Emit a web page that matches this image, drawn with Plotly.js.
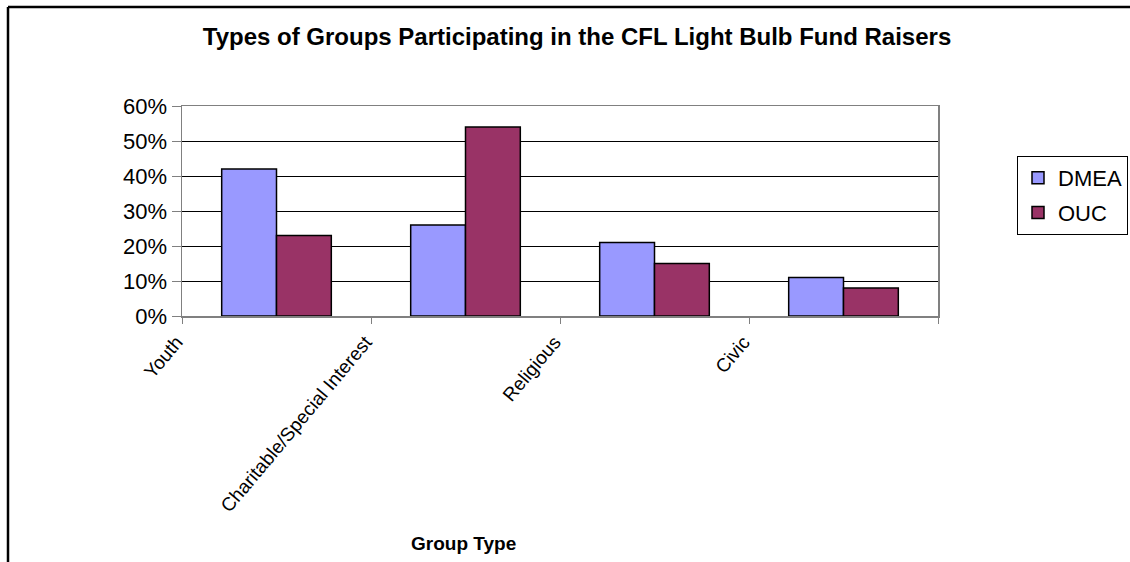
<!DOCTYPE html>
<html>
<head>
<meta charset="utf-8">
<script src="https://cdn.plot.ly/plotly-3.0.1.min.js"></script>
<style>html,body{margin:0;padding:0;background:#fff;}#chart{width:1130px;height:562px;}</style>
</head>
<body>
<div id="chart"></div>
<script>
const categories = ["Youth", "Charitable/Special Interest", "Religious", "Civic"];
const dmea = [0.42, 0.26, 0.21, 0.11];
const ouc = [0.23, 0.54, 0.15, 0.08];
const seriesNames = ["DMEA", "OUC"];
const yTickVals = [0, 0.1, 0.2, 0.3, 0.4, 0.5, 0.6];
const yTickText = ["0%", "10%", "20%", "30%", "40%", "50%", "60%"];

const font = "Liberation Sans, Arial, sans-serif";
const traces = [
  {type: "bar", name: seriesNames[0], legendgroup: "a", x: categories, y: dmea,
   marker: {color: "#9999ff", line: {color: "#000", width: 1.5}}},
  {type: "bar", name: seriesNames[1], legendgroup: "b", x: categories, y: ouc,
   marker: {color: "#993366", line: {color: "#000", width: 1.5}}}
];
const px = v => (v - 182) / 756;
const py = v => (316 - v) / 210;
const layout = {
  width: 1130, height: 562,
  margin: {l: 182, r: 192, t: 106, b: 246, autoexpand: false},
  paper_bgcolor: "#fff", plot_bgcolor: "#fff",
  font: {family: font, color: "#000"},
  barmode: "group", bargap: 0.42, bargroupgap: 0,
  showlegend: true,
  title: {text: "<b>Types of Groups Participating in the CFL Light Bulb Fund Raisers</b>",
          font: {family: font, size: 24, color: "#000"},
          x: 577 / 1130, xanchor: "center", y: 1 - 37 / 562, yanchor: "middle"},
  xaxis: {type: "category", tickangle: -50, tickfont: {size: 19, family: font},
          ticks: "outside", tickson: "boundaries", ticklen: 6, tickcolor: "#808080",
          ticklabelshift: -100, ticklabelstandoff: 6,
          showline: true, linecolor: "#808080", linewidth: 1.5, mirror: true,
          showgrid: false, zeroline: false, automargin: false},
  yaxis: {range: [0, 0.6], tickvals: yTickVals, ticktext: yTickText,
          tickfont: {size: 22, family: font}, ticks: "outside", ticklen: 9, tickcolor: "#808080",
          showline: true, linecolor: "#808080", linewidth: 1.5, mirror: true,
          showgrid: true, gridcolor: "#000", gridwidth: 1, zeroline: false, automargin: false},
  legend: {x: px(1017), xanchor: "left", y: py(156), yanchor: "top",
           bordercolor: "#000", borderwidth: 1, bgcolor: "#fff",
           font: {size: 22, family: font}, itemwidth: 30, tracegroupgap: 3},
  annotations: [{text: "<b>Group Type</b>", xref: "paper", yref: "paper",
                 x: px(463), y: py(543), xanchor: "center", yanchor: "middle",
                 showarrow: false, font: {size: 19, family: font, color: "#000"}}],
  shapes: [
    {type: "line", xref: "paper", yref: "paper", x0: px(8), x1: px(1135), y0: py(7), y1: py(7),
     line: {color: "#000", width: 2.5}},
    {type: "line", xref: "paper", yref: "paper", x0: px(8), x1: px(8), y0: py(7), y1: py(600),
     line: {color: "#000", width: 2.5}}
  ]
};
Plotly.newPlot("chart", traces, layout, {displayModeBar: false, staticPlot: true});
</script>
</body>
</html>
